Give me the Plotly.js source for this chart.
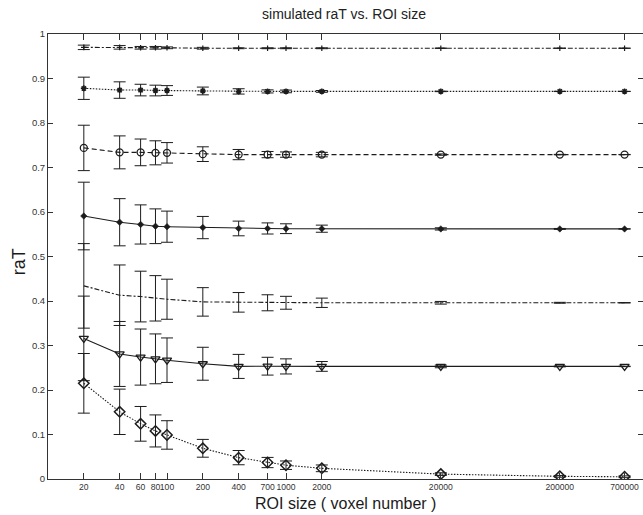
<!DOCTYPE html>
<html>
<head>
<meta charset="utf-8">
<script src="https://cdn.plot.ly/plotly-3.0.1.min.js"></script>
<style>
  html, body { margin: 0; padding: 0; background: #fff; }
  #chart { width: 643px; height: 515px; }
</style>
</head>
<body>
<div id="chart"></div>
<script>
// ROI sizes (voxel number), plotted on a log axis
const roiSizes = [20, 40, 60, 80, 100, 200, 400, 700, 1000, 2000, 20000, 200000, 700000];
const roiTickLabels = ["20", "40", "60", "80", "100", "200", "400", "700", "1000", "2000", "20000", "200000", "700000"];

// Mean simulated raT for each true level, with standard deviations
const raT1 = [0.970, 0.970, 0.969, 0.969, 0.969, 0.968, 0.968, 0.968, 0.968, 0.968, 0.968, 0.968, 0.968];
const sd1  = [0.005, 0.004, 0.003, 0.003, 0.002, 0.002, 0.001, 0.001, 0.001, 0.001, 0.0003, 0.0002, 0.0001];

const raT2 = [0.878, 0.874, 0.874, 0.873, 0.873, 0.872, 0.871, 0.871, 0.871, 0.871, 0.871, 0.871, 0.871];
const sd2  = [0.025, 0.0185, 0.013, 0.012, 0.011, 0.0087, 0.006, 0.0035, 0.003, 0.002, 0.0005, 0.0003, 0.0002];

const raT3 = [0.744, 0.734, 0.734, 0.733, 0.733, 0.730, 0.729, 0.729, 0.729, 0.729, 0.729, 0.729, 0.729];
const sd3  = [0.051, 0.037, 0.030, 0.027, 0.023, 0.0165, 0.0115, 0.007, 0.006, 0.005, 0.0015, 0.0005, 0.0003];

const raT4 = [0.591, 0.577, 0.572, 0.568, 0.567, 0.565, 0.563, 0.563, 0.5625, 0.5625, 0.562, 0.562, 0.562];
const sd4  = [0.076, 0.053, 0.044, 0.039, 0.035, 0.025, 0.0165, 0.0125, 0.011, 0.008, 0.0025, 0.001, 0.0005];

const raT5 = [0.434, 0.413, 0.410, 0.406, 0.404, 0.398, 0.397, 0.396, 0.396, 0.396, 0.396, 0.396, 0.396];
const sd5  = [0.095, 0.068, 0.057, 0.051, 0.045, 0.032, 0.022, 0.018, 0.0145, 0.0105, 0.003, 0.001, 0.0005];

const raT6 = [0.316, 0.281, 0.274, 0.270, 0.267, 0.259, 0.253, 0.2535, 0.253, 0.253, 0.253, 0.253, 0.253];
const sd6  = [0.095, 0.073, 0.063, 0.056, 0.050, 0.037, 0.027, 0.020, 0.017, 0.011, 0.003, 0.001, 0.0005];

const raT7 = [0.215, 0.151, 0.124, 0.108, 0.099, 0.069, 0.048, 0.037, 0.031, 0.024, 0.011, 0.006, 0.005];
const sd7  = [0.067, 0.051, 0.039, 0.036, 0.032, 0.020, 0.016, 0.0115, 0.0095, 0.0075, 0.003, 0.002, 0.002];

const ink = '#1c1c1c';

function series(y, sd, dash, marker) {
  const trace = {
    x: roiSizes,
    y: y,
    type: 'scatter',
    mode: marker ? 'lines+markers' : 'lines',
    line: { color: ink, width: 1.1, dash: dash },
    error_y: { type: 'data', array: sd, visible: true, color: ink, thickness: 1, width: 6 },
    showlegend: false,
    hoverinfo: 'x+y'
  };
  if (marker) trace.marker = marker;
  return trace;
}

const traces = [
  series(raT1, sd1, '5px,2px,2px,2px', { symbol: 'cross-thin-open', size: 4, color: ink, line: { color: ink, width: 1.2 } }),
  series(raT2, sd2, '1.5px,1.5px', { symbol: 'asterisk-open', size: 5, color: ink, line: { color: ink, width: 1.5 } }),
  series(raT3, sd3, '5px,3px', { symbol: 'circle-open', size: 7, color: ink, line: { color: ink, width: 1.3 } }),
  series(raT4, sd4, 'solid', { symbol: 'diamond', size: 5, color: ink, line: { color: ink, width: 0.5 } }),
  series(raT5, sd5, '5px,2px,2px,2px', null),
  series(raT6, sd6, 'solid', { symbol: 'triangle-down-open', size: 8, color: ink, line: { color: ink, width: 1.3 } }),
  series(raT7, sd7, '1.5px,1.5px', { symbol: 'diamond-open', size: 8, color: ink, line: { color: ink, width: 1.5 } })
];

const tickFamily = 'Liberation Sans, Arial, sans-serif';

const layout = {
  width: 643,
  height: 515,
  margin: { l: 48, r: 0, t: 34, b: 36, pad: 0 },
  paper_bgcolor: '#ffffff',
  plot_bgcolor: '#ffffff',
  font: { family: 'Liberation Sans, Arial, sans-serif', color: '#222' },
  title: {
    text: 'simulated raT vs. ROI size',
    font: { size: 14, color: '#222' },
    x: 0.535, xref: 'container', xanchor: 'center',
    y: 0.973, yref: 'container', yanchor: 'middle'
  },
  xaxis: {
    type: 'log',
    range: [1, 6],
    tickmode: 'array',
    tickvals: roiSizes,
    ticktext: roiTickLabels,
    tickangle: 0,
    ticklabeloverflow: 'allow',
    ticks: 'inside',
    ticklen: 6,
    tickcolor: '#333',
    tickfont: { size: 8.6, color: '#333', family: tickFamily },
    showline: true,
    linecolor: '#333',
    linewidth: 1,
    mirror: 'ticks',
    showgrid: false,
    zeroline: false,
    automargin: false
  },
  yaxis: {
    range: [0, 1],
    tickmode: 'array',
    tickvals: [0, 0.1, 0.2, 0.3, 0.4, 0.5, 0.6, 0.7, 0.8, 0.9, 1],
    ticktext: ['0', '0.1', '0.2', '0.3', '0.4', '0.5', '0.6', '0.7', '0.8', '0.9', '1'],
    ticks: 'inside',
    ticklen: 5,
    tickcolor: '#333',
    tickfont: { size: 9.5, color: '#333', family: tickFamily },
    showline: true,
    linecolor: '#333',
    linewidth: 1,
    mirror: 'ticks',
    showgrid: false,
    zeroline: false,
    automargin: false
  },
  annotations: [
    {
      text: 'ROI size ( voxel number )',
      xref: 'paper', yref: 'paper', x: 0.5, y: 0,
      xanchor: 'center', yanchor: 'middle', yshift: -24,
      showarrow: false,
      font: { size: 16, color: '#1a1a1a' }
    },
    {
      text: 'raT',
      xref: 'paper', yref: 'paper', x: 0, y: 0.487,
      xanchor: 'center', yanchor: 'middle', xshift: -29,
      textangle: -90,
      showarrow: false,
      font: { size: 18, color: '#1a1a1a' }
    }
  ]
};

Plotly.newPlot('chart', traces, layout, { staticPlot: true, displayModeBar: false });
</script>
</body>
</html>
